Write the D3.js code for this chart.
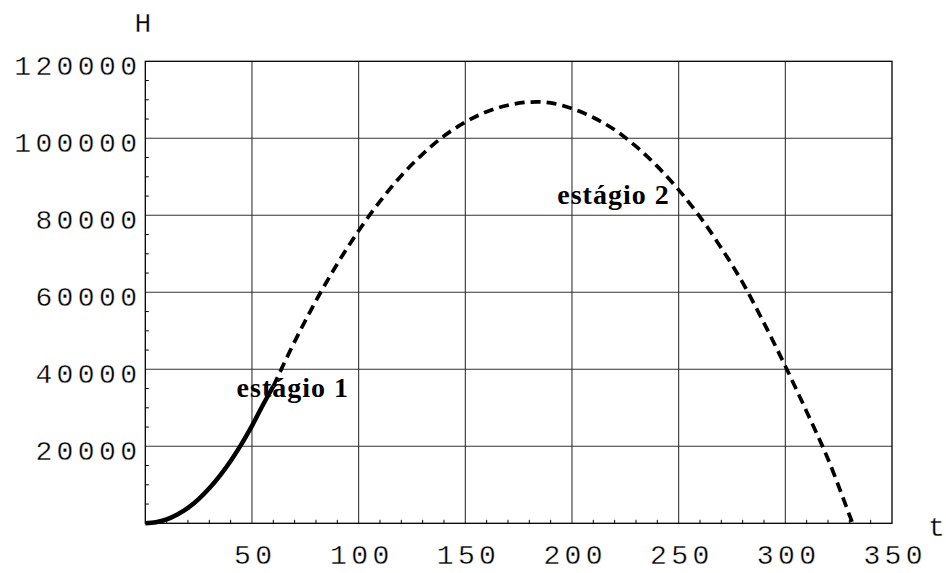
<!DOCTYPE html>
<html>
<head>
<meta charset="utf-8">
<script src="https://cdn.jsdelivr.net/npm/d3@7"></script>
<style>
  body { margin: 0; background: #fff; }
  .num { font-family: "Liberation Mono", "Courier New", monospace; font-size: 28px; letter-spacing: 4.4px; fill: #000; stroke: #fff; stroke-width: 0.35px; }
  .axt { letter-spacing: 0; }
  .lbl { font-family: "Liberation Serif", "Times New Roman", serif; font-weight: bold; font-size: 28px; letter-spacing: 1px; fill: #000; }
</style>
</head>
<body>
<svg id="chart"></svg>
<script>
// axis ticks
const xTicks = [50, 100, 150, 200, 250, 300, 350];
const yTicks = [20000, 40000, 60000, 80000, 100000, 120000];
const xMinor = [10, 20, 30, 40, 60, 70, 80, 90, 110, 120, 130, 140, 160, 170, 180, 190, 210, 220, 230, 240, 260, 270, 280, 290, 310, 320, 330, 340];
const yMinor = [5000, 10000, 15000, 25000, 30000, 35000, 45000, 50000, 55000, 65000, 70000, 75000, 85000, 90000, 95000, 105000, 110000, 115000];

// stage 1 (powered, solid)
const stage1T = [0, 5, 10, 15, 20, 25, 30, 35, 40, 45, 50, 55, 60];
const stage1H = [0, 250, 1000, 2300, 4000, 6300, 9100, 12400, 16200, 20500, 25300, 30600, 35600];

// stage 2 (ballistic, dashed)
const stage2T = [60, 70, 80, 90, 100, 110, 120, 130, 140, 150, 160, 170, 180, 190, 200, 210, 220, 230, 240, 250, 260, 270, 280, 290, 300, 310, 320, 330, 331.5];
const stage2H = [35600, 47200, 57800, 67400, 76000, 83600, 90300, 95900, 100600, 104200, 106900, 108600, 109400, 109200, 107700, 105400, 102200, 97900, 92700, 86600, 79600, 71500, 62500, 52000, 40800, 29000, 16700, 2200, 0];

const labelText = ['estágio 1', 'estágio 2'];
const labelT = [42.8, 193.1];
const labelH = [32900, 82900];

const W = 946, H = 573;
const margin = { top: 61.3, right: 54, bottom: 49.7, left: 145.3 };
const w = W - margin.left - margin.right;
const h = H - margin.top - margin.bottom;

const svg = d3.select('#chart')
  .attr('width', W)
  .attr('height', H);

const g = svg.append('g')
  .attr('transform', `translate(${margin.left},${margin.top})`);

const x = d3.scaleLinear().domain([0, 350]).range([0, w]);
const y = d3.scaleLinear().domain([0, 120000]).range([h, 0]);

// grid
g.selectAll('.vgrid')
  .data(xTicks.slice(0, -1))
  .enter().append('line')
  .attr('x1', d => x(d)).attr('x2', d => x(d))
  .attr('y1', 0).attr('y2', h)
  .attr('stroke', '#333').attr('stroke-width', 1.1);

g.selectAll('.hgrid')
  .data(yTicks.slice(0, -1))
  .enter().append('line')
  .attr('x1', 0).attr('x2', w)
  .attr('y1', d => y(d)).attr('y2', d => y(d))
  .attr('stroke', '#333').attr('stroke-width', 1.1);

// minor ticks
g.selectAll('.xminor')
  .data(xMinor)
  .enter().append('line')
  .attr('x1', d => x(d)).attr('x2', d => x(d))
  .attr('y1', h).attr('y2', h - 3.5)
  .attr('stroke', '#000').attr('stroke-width', 1);

g.selectAll('.yminor')
  .data(yMinor)
  .enter().append('line')
  .attr('x1', 0).attr('x2', 3.5)
  .attr('y1', d => y(d)).attr('y2', d => y(d))
  .attr('stroke', '#000').attr('stroke-width', 1);

// frame
g.append('rect')
  .attr('x', 0).attr('y', 0)
  .attr('width', w).attr('height', h)
  .attr('fill', 'none')
  .attr('stroke', '#000').attr('stroke-width', 1.3);

// tick labels
g.selectAll('.xlab')
  .data(xTicks)
  .enter().append('text')
  .attr('class', 'num')
  .attr('x', d => x(d) + 1 + 2.2)
  .attr('y', h + 41)
  .attr('text-anchor', 'middle')
  .text(d => d);

g.selectAll('.ylab')
  .data(yTicks)
  .enter().append('text')
  .attr('class', 'num')
  .attr('x', -8.3 + 4.4)
  .attr('y', d => y(d) + 13.5)
  .attr('text-anchor', 'end')
  .text(d => d);

// axis titles
svg.append('text').attr('class', 'num axt')
  .attr('x', 143).attr('y', 32)
  .attr('text-anchor', 'middle').text('H');
svg.append('text').attr('class', 'num axt')
  .attr('x', 928).attr('y', 536)
  .text('t');

// curves
const line = d3.line()
  .x(d => x(d[0]))
  .y(d => y(d[1]))
  .curve(d3.curveCatmullRom);

g.append('path')
  .datum(d3.zip(stage2T, stage2H))
  .attr('d', line)
  .attr('fill', 'none')
  .attr('stroke', '#000')
  .attr('stroke-width', 3.7)
  .attr('stroke-dasharray', '10,6');

g.append('path')
  .datum(d3.zip(stage1T, stage1H))
  .attr('d', line)
  .attr('fill', 'none')
  .attr('stroke', '#000')
  .attr('stroke-width', 4.5);

// stage labels
g.selectAll('.stage')
  .data(d3.range(labelText.length))
  .enter().append('text')
  .attr('class', 'lbl')
  .attr('x', i => x(labelT[i]))
  .attr('y', i => y(labelH[i]))
  .text(i => labelText[i]);
</script>
</body>
</html>
